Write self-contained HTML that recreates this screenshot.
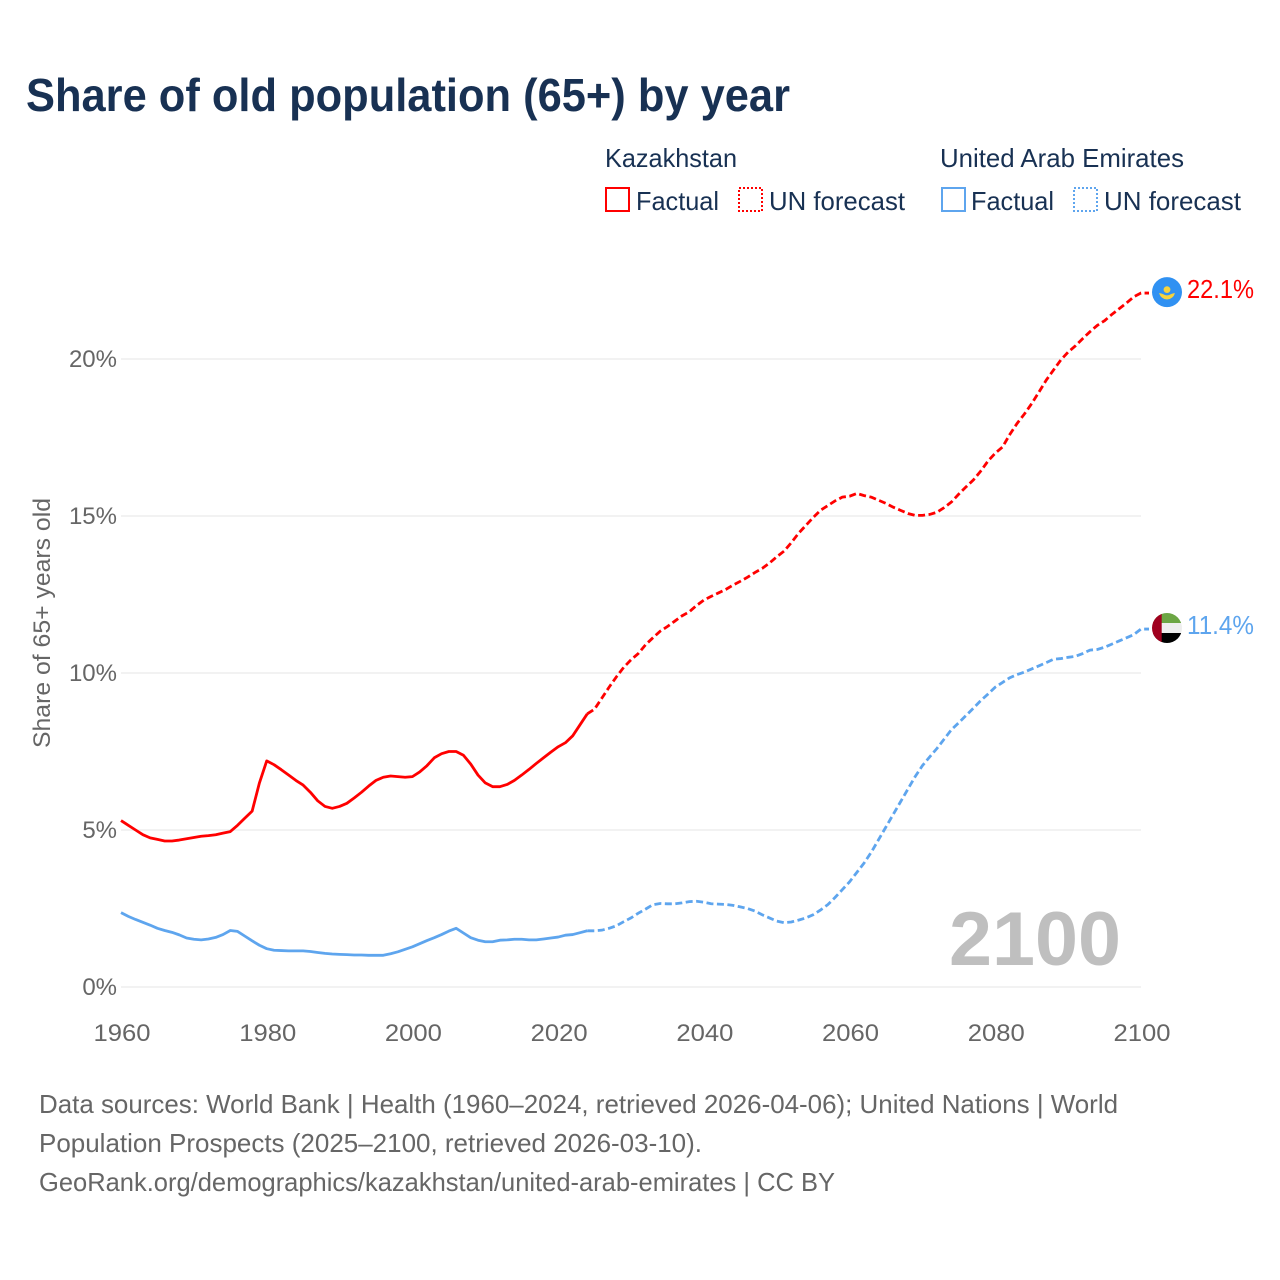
<!DOCTYPE html>
<html lang="en">
<head>
<meta charset="utf-8">
<title>Share of old population (65+) by year</title>
<style>
html,body{margin:0;padding:0;background:#fff;}
svg{display:block;font-family:"Liberation Sans",sans-serif;}
</style>
</head>
<body>
<svg id="chart" xmlns="http://www.w3.org/2000/svg" width="1280" height="1280" viewBox="0 0 1280 1280">
  <rect width="1280" height="1280" fill="#fff"/>
  <text x="26" y="111" font-size="46" font-weight="700" fill="#183153" textLength="764" lengthAdjust="spacingAndGlyphs">Share of old population (65+) by year</text>

  <g font-size="26" fill="#183153">
    <text x="605" y="167" textLength="132" lengthAdjust="spacingAndGlyphs">Kazakhstan</text>
    <text x="940" y="167" textLength="244" lengthAdjust="spacingAndGlyphs">United Arab Emirates</text>
    <rect x="606" y="188" width="23" height="23" fill="none" stroke="#ff0000" stroke-width="2"/>
    <text x="636" y="210" textLength="83" lengthAdjust="spacingAndGlyphs">Factual</text>
    <rect x="739" y="188" width="23" height="23" fill="none" stroke="#ff0000" stroke-width="2" stroke-dasharray="2 2"/>
    <text x="769" y="210" textLength="136" lengthAdjust="spacingAndGlyphs">UN forecast</text>
    <rect x="942" y="188" width="23" height="23" fill="none" stroke="#5ea5ee" stroke-width="2"/>
    <text x="971" y="210" textLength="83" lengthAdjust="spacingAndGlyphs">Factual</text>
    <rect x="1074" y="188" width="23" height="23" fill="none" stroke="#5ea5ee" stroke-width="2" stroke-dasharray="2 2"/>
    <text x="1104" y="210" textLength="137" lengthAdjust="spacingAndGlyphs">UN forecast</text>
  </g>

  <text transform="translate(50 623) rotate(-90)" text-anchor="middle" font-size="24" fill="#666" textLength="250" lengthAdjust="spacingAndGlyphs">Share of 65+ years old</text>

  <g id="grid"></g>
  <g id="y-labels"></g>
  <g id="x-labels"></g>

  <text x="949" y="965" font-size="76" font-weight="700" fill="#bfbfbf" textLength="172" lengthAdjust="spacingAndGlyphs">2100</text>

  <g id="series"></g>

  <defs>
    <clipPath id="ae-clip"><circle r="15"/></clipPath>
  </defs>
  <g id="flag-kz">
    <circle r="15" fill="#3091f2"/>
    <circle cy="-2.5" r="3.4" fill="#f6d33c"/>
    <path d="M-8 1 Q-4 1.5 -2.5 2.8 Q0 3.8 2.5 2.8 Q4 1.5 8 1 Q6 7 0 7.4 Q-6 7 -8 1Z" fill="#f6d33c"/>
  </g>
  <g id="flag-ae">
    <g clip-path="url(#ae-clip)">
      <rect x="-15" y="-15" width="30" height="10" fill="#6ca644"/>
      <rect x="-15" y="-5" width="30" height="10" fill="#eeeeee"/>
      <rect x="-15" y="5" width="30" height="10" fill="#000"/>
      <rect x="-15" y="-15" width="9.7" height="30" fill="#a0001e"/>
    </g>
  </g>
  <text id="value-kz" x="1187" font-size="26" fill="#ff0000" textLength="67" lengthAdjust="spacingAndGlyphs"></text>
  <text id="value-ae" x="1187" font-size="26" fill="#5ea5ee" textLength="67" lengthAdjust="spacingAndGlyphs"></text>

  <g font-size="26" fill="#666">
    <text x="39" y="1113" textLength="1079" lengthAdjust="spacingAndGlyphs">Data sources: World Bank | Health (1960–2024, retrieved 2026-04-06); United Nations | World</text>
    <text x="39" y="1152" textLength="663" lengthAdjust="spacingAndGlyphs">Population Prospects (2025–2100, retrieved 2026-03-10).</text>
    <text x="39" y="1191" textLength="796" lengthAdjust="spacingAndGlyphs">GeoRank.org/demographics/kazakhstan/united-arab-emirates | CC BY</text>
  </g>
</svg>
<script>
const firstYear = 1960;
const lastFactualYear = 2024;
const xTicks = [1960, 1980, 2000, 2020, 2040, 2060, 2080, 2100];
const yTicks = [0, 5, 10, 15, 20];
const kazakhstan = [
  5.3,5.15,5.0,4.85,4.75,4.7,4.65,4.65,4.68,4.72,
  4.76,4.8,4.82,4.85,4.9,4.95,5.15,5.38,5.6,6.5,
  7.2,7.08,6.92,6.75,6.58,6.43,6.2,5.93,5.75,5.69,
  5.75,5.85,6.02,6.2,6.4,6.58,6.68,6.72,6.7,6.68,
  6.7,6.85,7.05,7.3,7.43,7.5,7.5,7.38,7.1,6.75,
  6.5,6.38,6.38,6.45,6.58,6.75,6.93,7.12,7.3,7.48,
  7.65,7.78,8.0,8.35,8.7,8.85,9.2,9.55,9.88,10.18,
  10.42,10.62,10.9,11.12,11.33,11.48,11.65,11.82,11.95,12.15,
  12.32,12.44,12.55,12.66,12.8,12.92,13.05,13.2,13.33,13.5,
  13.7,13.88,14.15,14.45,14.7,14.95,15.18,15.33,15.48,15.6,
  15.63,15.72,15.65,15.6,15.5,15.4,15.28,15.18,15.08,15.02,
  15.02,15.05,15.12,15.27,15.45,15.7,15.93,16.15,16.43,16.75,
  17.0,17.2,17.6,17.95,18.25,18.58,18.95,19.33,19.65,19.97,
  20.22,20.42,20.65,20.87,21.07,21.22,21.42,21.6,21.78,21.98,22.1
];
const uae = [
  2.37,2.25,2.15,2.06,1.97,1.87,1.8,1.74,1.66,1.56,
  1.52,1.5,1.53,1.58,1.67,1.8,1.77,1.62,1.47,1.33,
  1.22,1.17,1.16,1.15,1.15,1.15,1.13,1.1,1.07,1.05,
  1.04,1.03,1.02,1.02,1.01,1.01,1.01,1.06,1.12,1.2,
  1.28,1.38,1.48,1.57,1.67,1.78,1.87,1.72,1.57,1.49,
  1.44,1.44,1.49,1.5,1.52,1.52,1.5,1.5,1.53,1.56,
  1.59,1.65,1.67,1.73,1.79,1.79,1.81,1.87,1.95,2.08,
  2.2,2.35,2.48,2.62,2.66,2.65,2.65,2.68,2.72,2.73,
  2.7,2.65,2.64,2.63,2.6,2.55,2.5,2.42,2.3,2.2,
  2.1,2.05,2.07,2.13,2.2,2.3,2.45,2.62,2.85,3.1,
  3.35,3.65,3.95,4.3,4.7,5.1,5.5,5.9,6.3,6.7,
  7.05,7.33,7.6,7.9,8.2,8.42,8.65,8.88,9.12,9.33,
  9.55,9.7,9.85,9.95,10.03,10.13,10.23,10.33,10.44,10.46,
  10.5,10.53,10.62,10.73,10.75,10.82,10.92,11.02,11.12,11.22,11.4
];

const NS = 'http://www.w3.org/2000/svg';
const xScale = function (year) { return 121 + (year - 1960) * (1020 / 140); };
const yScale = function (value) { return 987 - value * 31.4; };

const grid = document.getElementById('grid');
const yLabels = document.getElementById('y-labels');
const xLabels = document.getElementById('x-labels');
const series = document.getElementById('series');

yTicks.forEach(function (t) {
  const line = document.createElementNS(NS, 'line');
  
  
  line.setAttribute('x1', xScale(1960));
  line.setAttribute('x2', xScale(2100));
  line.setAttribute('y1', yScale(t));
  line.setAttribute('y2', yScale(t));
  line.setAttribute('stroke', '#eeeeee');
  line.setAttribute('stroke-width', '1.5');
  grid.appendChild(line);

  const label = document.createElementNS(NS, 'text');
  
  
  label.setAttribute('x', 117);
  label.setAttribute('y', yScale(t) + 8);
  label.setAttribute('text-anchor', 'end');
  label.setAttribute('font-size', '24');
  label.setAttribute('fill', '#666');
  label.textContent = t + '%';
  yLabels.appendChild(label);
});

xTicks.forEach(function (t) {
  const label = document.createElementNS(NS, 'text');
  
  
  label.setAttribute('x', xScale(t) + 1);
  label.setAttribute('y', 1041);
  label.setAttribute('text-anchor', 'middle');
  label.setAttribute('font-size', '24');
  label.setAttribute('fill', '#666');
  label.setAttribute('textLength', '57');
  label.setAttribute('lengthAdjust', 'spacingAndGlyphs');
  label.textContent = String(t);
  xLabels.appendChild(label);
});

function pathFor(values, fromYear, toYear, extend) {
  let d = '';
  for (let y = fromYear; y <= toYear; y++) {
    d += (d ? 'L' : 'M') + xScale(y).toFixed(2) + ' ' + yScale(values[y - firstYear]).toFixed(2);
  }
  if (extend) {
    d += 'L' + (xScale(toYear) + 8).toFixed(2) + ' ' + yScale(values[toYear - firstYear]).toFixed(2);
  }
  return d;
}

const lastYear = firstYear + kazakhstan.length - 1;

const kzFactualLine = document.createElementNS(NS, 'path');


kzFactualLine.setAttribute('d', pathFor(kazakhstan, firstYear, lastFactualYear, false));
kzFactualLine.setAttribute('fill', 'none');
kzFactualLine.setAttribute('stroke', '#ff0000');
kzFactualLine.setAttribute('stroke-width', '2.8');
kzFactualLine.setAttribute('stroke-linejoin', 'round');
series.appendChild(kzFactualLine);

const kzForecastLine = document.createElementNS(NS, 'path');


kzForecastLine.setAttribute('d', pathFor(kazakhstan, lastFactualYear, lastYear, true));
kzForecastLine.setAttribute('fill', 'none');
kzForecastLine.setAttribute('stroke', '#ff0000');
kzForecastLine.setAttribute('stroke-width', '2.8');
kzForecastLine.setAttribute('stroke-dasharray', '7 3.5');
series.appendChild(kzForecastLine);

const aeFactualLine = document.createElementNS(NS, 'path');


aeFactualLine.setAttribute('d', pathFor(uae, firstYear, lastFactualYear, false));
aeFactualLine.setAttribute('fill', 'none');
aeFactualLine.setAttribute('stroke', '#5ea5ee');
aeFactualLine.setAttribute('stroke-width', '2.8');
aeFactualLine.setAttribute('stroke-linejoin', 'round');
series.appendChild(aeFactualLine);

const aeForecastLine = document.createElementNS(NS, 'path');


aeForecastLine.setAttribute('d', pathFor(uae, lastFactualYear, lastYear, true));
aeForecastLine.setAttribute('fill', 'none');
aeForecastLine.setAttribute('stroke', '#5ea5ee');
aeForecastLine.setAttribute('stroke-width', '2.8');
aeForecastLine.setAttribute('stroke-dasharray', '7 3.5');
series.appendChild(aeForecastLine);

const kzEnd = kazakhstan[kazakhstan.length - 1];
const aeEnd = uae[uae.length - 1];
document.getElementById('flag-kz').setAttribute('transform', 'translate(1167 ' + (yScale(kzEnd) - 1).toFixed(1) + ')');
document.getElementById('flag-ae').setAttribute('transform', 'translate(1167 ' + (yScale(aeEnd) - 1).toFixed(1) + ')');
const valueKz = document.getElementById('value-kz');
valueKz.setAttribute('y', (yScale(kzEnd) + 5).toFixed(1));
valueKz.textContent = kzEnd.toFixed(1) + '%';
const valueAe = document.getElementById('value-ae');
valueAe.setAttribute('y', (yScale(aeEnd) + 5).toFixed(1));
valueAe.textContent = aeEnd.toFixed(1) + '%';
</script>
</body>
</html>
